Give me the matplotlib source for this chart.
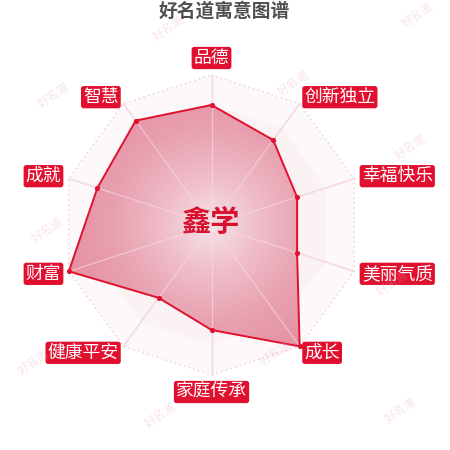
import numpy as np
import matplotlib
matplotlib.use("Agg")
import matplotlib.pyplot as plt
from matplotlib.patches import Polygon
from matplotlib.colors import LinearSegmentedColormap

plt.rcParams['font.family'] = ['Noto Sans CJK SC', 'DejaVu Sans']

# ---- data ----
title = "好名道寓意图谱"
center_name = "鑫学"
categories = ["品德", "创新独立", "幸福快乐", "美丽气质", "成长",
              "家庭传承", "健康平安", "财富", "成就", "智慧"]
values = [80, 70, 60, 60, 100, 70, 60, 100, 80, 86]
max_value = 100
watermark = "好名道"
watermark_pos = [(168, 28), (417, 15), (53, 95), (293, 83), (410, 147),
                 (47, 230), (392, 283), (275, 353), (33, 362), (160, 415), (400, 410)]

# ---- layout ----
W = H = 450
cx, cy, R = 211.5, 225.0, 150.0
red = '#e0102f'

fig = plt.figure(figsize=(4.5, 4.5), dpi=100)
ax = fig.add_axes([0, 0, 1, 1])
ax.set_xlim(0, W)
ax.set_ylim(H, 0)
ax.set_aspect('equal')
ax.axis('off')

n = len(categories)
ang = np.arange(n) * 2 * np.pi / n
sx, sy = np.sin(ang), -np.cos(ang)

def ring(f):
    return np.column_stack([cx + R * f * sx, cy + R * f * sy])

gx, gy = np.meshgrid(np.linspace(0, W, 451), np.linspace(0, H, 451))
rr = np.sqrt((gx - cx) ** 2 + (gy - cy) ** 2) / R

# split areas (radial bands)
band_alpha = [0.3, 0.3, 0.3, 0.28, 0.12]
for i in range(5):
    outer = ring((i + 1) / 5)
    inner = ring(i / 5)[::-1]
    pts = np.vstack([outer, outer[:1], inner[-1:], inner])
    ax.add_patch(Polygon(pts, closed=True, facecolor='#f3d3db',
                         edgecolor='none', alpha=band_alpha[i], zorder=1))

# axis spokes
for k in range(n):
    ax.plot([cx, cx + R * sx[k]], [cy, cy + R * sy[k]], color='#f3d3da', lw=1.0, zorder=2)
o = ring(1.0)
ax.add_patch(Polygon(o, closed=True, fill=False, edgecolor='#efcad2',
                     lw=1.0, linestyle=(0, (1, 2.5)), zorder=2))

# data polygon with radial gradient
vf = np.array(values) / max_value
pts = np.column_stack([cx + R * vf * sx, cy + R * vf * sy])
cmap = LinearSegmentedColormap.from_list('g', ['#f6e2e7', '#efbcc7', '#e8a0b0', '#e58fa1'])
img = ax.imshow(np.clip(rr, 0, 1), cmap=cmap, vmin=0, vmax=1,
                extent=(0, W, H, 0), origin='upper', zorder=3,
                interpolation='bilinear')
clip = Polygon(pts, closed=True, transform=ax.transData)
img.set_clip_path(clip)
ax.add_patch(Polygon(pts, closed=True, fill=False, edgecolor=red, lw=1.4, zorder=4))
ax.scatter(pts[:, 0], pts[:, 1], s=14, color=red, zorder=5, linewidths=0)

for k in range(n):
    ax.plot([cx, cx + R * sx[k]], [cy, cy + R * sy[k]], color='#f6dfe4', lw=0.9,
            zorder=3.5, alpha=0.6)

# labels
LR = 158
for k, name in enumerate(categories):
    x = cx + LR * sx[k]
    y = cy + LR * sy[k]
    if sx[k] > 0.01:
        ha = 'left'
    elif sx[k] < -0.01:
        ha = 'right'
    else:
        ha = 'center'
    if abs(sx[k]) < 0.01:
        va = 'bottom' if sy[k] < 0 else 'top'
    else:
        va = 'center'
    ax.text(x, y, name, ha=ha, va=va, color='white', fontsize=12.8, zorder=6,
            bbox=dict(boxstyle='round,pad=0.12,rounding_size=0.15',
                      facecolor='#e2102f', edgecolor='none'))

# center name
ax.text(cx - 1, cy - 3, center_name, ha='center', va='center', color='#d9102e',
        fontsize=21, fontweight='bold', zorder=7)

# title
ax.text(224, 11, title, ha='center', va='center', color='#505050',
        fontsize=13.5, fontweight='bold', zorder=7)

# watermarks
for (x, y) in watermark_pos:
    ax.text(x, y, watermark, ha='center', va='center', color='#e8a8b6',
            alpha=0.3, fontsize=8.5, rotation=35, zorder=8)

fig.savefig('out.png', dpi=100)
